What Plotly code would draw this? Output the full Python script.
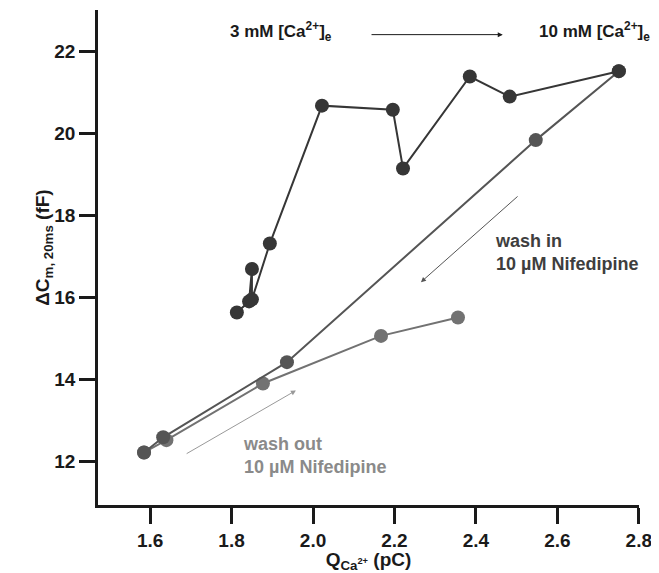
import plotly.graph_objects as go

# 3 mM -> 10 mM [Ca2+]e series
ca_x = [1.813, 1.843, 1.850, 1.850, 1.894, 2.022, 2.196, 2.221, 2.385, 2.483, 2.751]
ca_y = [15.63, 15.90, 16.69, 15.95, 17.31, 20.67, 20.57, 19.14, 21.38, 20.89, 21.51]

# wash in 10 uM Nifedipine
win_x = [2.751, 2.547, 1.936, 1.632, 1.585]
win_y = [21.51, 19.83, 14.42, 12.59, 12.22]

# wash out 10 uM Nifedipine
wout_x = [1.585, 1.640, 1.877, 2.167, 2.356]
wout_y = [12.22, 12.52, 13.90, 15.06, 15.51]

x_ticks = [1.6, 1.8, 2.0, 2.2, 2.4, 2.6, 2.8]
y_ticks = [12, 14, 16, 18, 20, 22]

FONT = "Liberation Sans, Arial, sans-serif"

fig = go.Figure()
fig.add_trace(go.Scatter(x=wout_x, y=wout_y, mode="lines+markers",
                         line=dict(color="#727272", width=2),
                         marker=dict(color="#727272", size=14)))
fig.add_trace(go.Scatter(x=win_x, y=win_y, mode="lines+markers",
                         line=dict(color="#555555", width=2),
                         marker=dict(color="#555555", size=14)))
fig.add_trace(go.Scatter(x=ca_x, y=ca_y, mode="lines+markers",
                         line=dict(color="#363636", width=2),
                         marker=dict(color="#363636", size=14)))

axis_common = dict(showgrid=False, zeroline=False, showline=True, linecolor="#1a1a1a",
                   linewidth=2.5, ticks="outside", ticklen=16, tickwidth=2.5,
                   tickcolor="#1a1a1a", tickfont=dict(family=FONT, size=19, color="#1a1a1a"))

fig.update_layout(
    width=651, height=565,
    margin=dict(l=90, r=20, t=2, b=68),
    paper_bgcolor="white", plot_bgcolor="white",
    showlegend=False,
    font=dict(family=FONT, color="#1a1a1a"),
    xaxis=dict(range=[1.472, 2.8005], tickvals=x_ticks, ticktext=[f"<b>{v:.1f}</b>" for v in x_ticks],
               title=dict(text="<b>Q<sub>Ca<sup>2+</sup></sub> (pC)</b>", font=dict(size=19, family=FONT), standoff=4),
               **axis_common),
    yaxis=dict(range=[10.94, 23.0], tickvals=y_ticks, ticktext=[f"<b>{v}</b>" for v in y_ticks],
               **axis_common),
)

# y-axis title
fig.add_annotation(x=-0.1257, y=0.5216, xref="paper", yref="paper", textangle=-90,
                   text="<b>ΔC<sub>m, 20ms</sub> (fF)</b>", showarrow=False,
                   font=dict(size=19, family=FONT, color="#1a1a1a"))

ann_font = dict(family=FONT, size=17, color="#1a1a1a")
fig.add_annotation(x=1.79, y=22.47, xref="x", yref="y", xanchor="left",
                   text="<b>3 mM [Ca<sup>2+</sup>]<sub>e</sub></b>", showarrow=False, font=ann_font)
fig.add_annotation(x=1.024, y=22.47, xref="paper", yref="y", xanchor="right",
                   text="<b>10 mM [Ca<sup>2+</sup>]<sub>e</sub></b>", showarrow=False, font=ann_font)
fig.add_annotation(x=2.466, y=22.40, ax=2.140, ay=22.40, xref="x", yref="y", axref="x", ayref="y",
                   text="", showarrow=True, arrowhead=2, arrowsize=1, arrowwidth=1, arrowcolor="#1a1a1a")

fig.add_annotation(x=2.442, y=17.1, xref="x", yref="y", xanchor="left", align="left",
                   text="<b>wash in<br>10 µM Nifedipine</b>", showarrow=False,
                   font=dict(family=FONT, size=18, color="#3e3e3e"))
fig.add_annotation(x=2.265, y=16.37, ax=2.506, ay=18.49, xref="x", yref="y", axref="x", ayref="y",
                   text="", showarrow=True, arrowhead=2, arrowsize=1, arrowwidth=1, arrowcolor="#555555")

fig.add_annotation(x=1.822, y=12.14, xref="x", yref="y", xanchor="left", align="left",
                   text="<b>wash out<br>10 µM Nifedipine</b>", showarrow=False,
                   font=dict(family=FONT, size=18, color="#8a8a8a"))
fig.add_annotation(x=1.958, y=13.73, ax=1.686, ay=12.17, xref="x", yref="y", axref="x", ayref="y",
                   text="", showarrow=True, arrowhead=2, arrowsize=1, arrowwidth=1, arrowcolor="#999999")

fig.write_html("out.html")
